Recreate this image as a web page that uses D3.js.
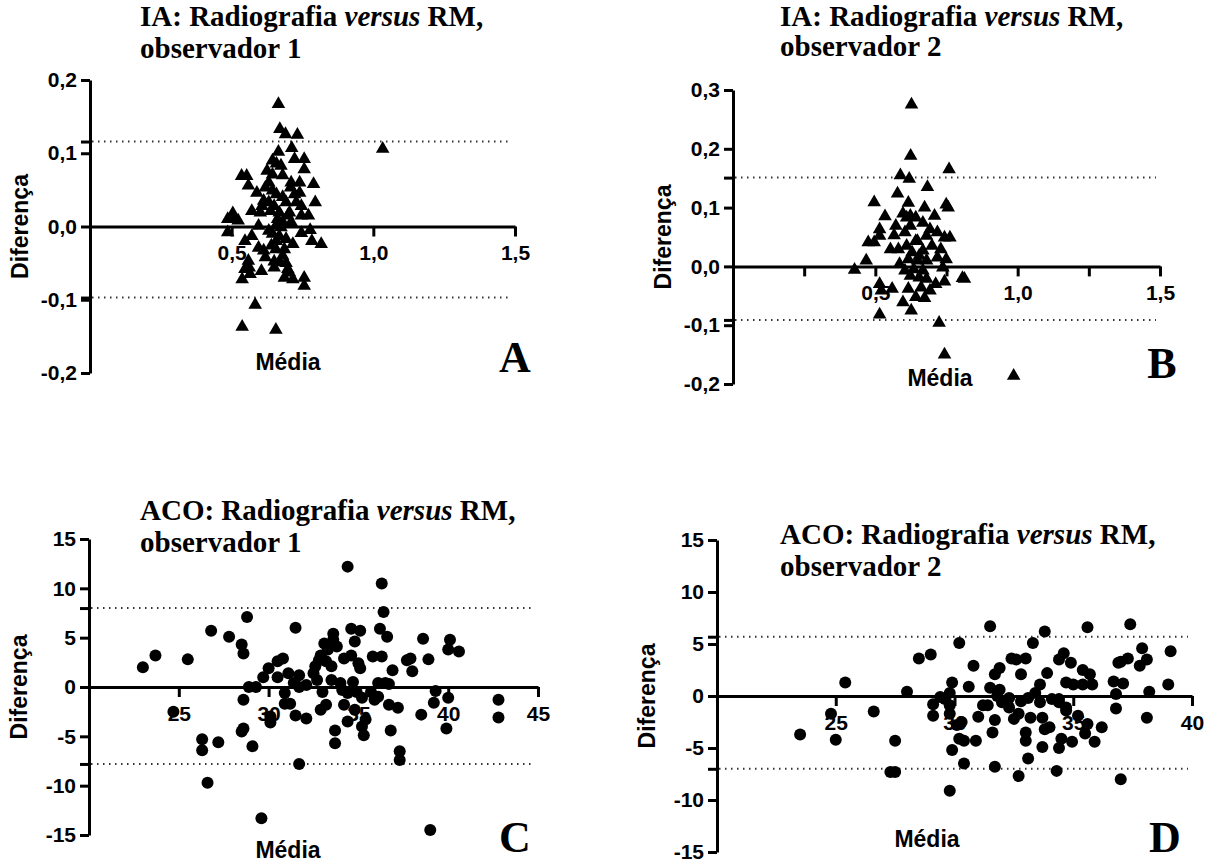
<!DOCTYPE html>
<html>
<head>
<meta charset="utf-8">
<script src="https://cdnjs.cloudflare.com/ajax/libs/d3/7.8.5/d3.min.js"></script>
<style>
  body { margin: 0; background: #fff; }
  svg { display: block; }
  .axis .tick text { font: bold 21px "Liberation Sans", Arial, sans-serif; fill: #000; }
  .axis path, .axis line { stroke: #000; stroke-width: 3; }
  .title { font: bold 29px "Liberation Serif", "Times New Roman", serif; fill: #000; }
  .lab { font: bold 23px "Liberation Sans", Arial, sans-serif; fill: #000; }
  .letter { font: bold 44px "Liberation Serif", "Times New Roman", serif; fill: #000; }
  .limit { stroke: #333; stroke-width: 2; stroke-dasharray: 1.5 4.5; fill: none; }
</style>
</head>
<body>
<svg id="chart" width="1222" height="864"></svg>
<script>
// Bland-Altman: [media, diferenca]
var iaObs1 = [[0.665,0.167],[0.670,0.133],[0.690,0.126],[0.732,0.125],[1.033,0.106],[0.712,0.107],[0.535,0.069],[0.553,0.069],[0.559,0.056],[0.665,0.102],[0.644,0.090],[0.658,0.086],[0.674,0.083],[0.722,0.092],[0.756,0.092],[0.756,0.078],[0.625,0.076],[0.644,0.071],[0.680,0.070],[0.710,0.060],[0.740,0.060],[0.789,0.058],[0.708,0.053],[0.619,0.053],[0.589,0.046],[0.644,0.049],[0.658,0.044],[0.722,0.044],[0.740,0.046],[0.795,0.033],[0.613,0.035],[0.631,0.033],[0.607,0.028],[0.650,0.028],[0.692,0.033],[0.728,0.033],[0.746,0.028],[0.571,0.021],[0.601,0.019],[0.637,0.021],[0.668,0.019],[0.704,0.019],[0.746,0.015],[0.771,0.015],[0.504,0.018],[0.510,0.011],[0.523,0.008],[0.486,0.010],[0.662,0.010],[0.680,0.006],[0.710,0.006],[0.656,0.001],[0.674,-0.001],[0.486,-0.008],[0.631,-0.006],[0.644,-0.010],[0.746,-0.009],[0.777,-0.005],[0.571,-0.013],[0.668,-0.013],[0.692,-0.017],[0.547,-0.020],[0.783,-0.020],[0.816,-0.024],[0.716,-0.024],[0.595,-0.029],[0.613,-0.033],[0.656,-0.031],[0.686,-0.031],[0.619,-0.042],[0.680,-0.040],[0.559,-0.047],[0.650,-0.048],[0.692,-0.050],[0.562,-0.056],[0.547,-0.058],[0.650,-0.056],[0.698,-0.058],[0.565,-0.065],[0.605,-0.061],[0.704,-0.063],[0.686,-0.070],[0.537,-0.072],[0.716,-0.072],[0.756,-0.070],[0.756,-0.081],[0.583,-0.107],[0.537,-0.137],[0.656,-0.141],[0.658,-0.020],[0.640,-0.026],[0.670,-0.049],[0.595,0.001],[0.698,0.015],[0.680,0.040],[0.631,0.060]];

var iaObs2 = [[0.627,0.275],[0.624,0.188],[0.759,0.165],[0.588,0.155],[0.619,0.149],[0.683,0.135],[0.578,0.124],[0.496,0.109],[0.616,0.108],[0.749,0.105],[0.756,0.100],[0.534,0.085],[0.597,0.090],[0.610,0.083],[0.673,0.100],[0.708,0.086],[0.642,0.083],[0.667,0.074],[0.515,0.063],[0.572,0.069],[0.623,0.069],[0.604,0.058],[0.566,0.053],[0.515,0.052],[0.475,0.041],[0.496,0.041],[0.553,0.029],[0.581,0.029],[0.642,0.043],[0.680,0.052],[0.743,0.049],[0.762,0.049],[0.730,0.029],[0.629,0.024],[0.667,0.027],[0.699,0.035],[0.616,0.012],[0.648,0.010],[0.680,0.010],[0.718,0.015],[0.749,0.012],[0.468,0.010],[0.427,-0.006],[0.604,-0.007],[0.635,-0.005],[0.667,-0.007],[0.623,-0.016],[0.654,-0.019],[0.680,-0.021],[0.743,-0.026],[0.712,-0.030],[0.806,-0.020],[0.813,-0.021],[0.515,-0.030],[0.559,-0.038],[0.521,-0.041],[0.616,-0.038],[0.642,-0.052],[0.673,-0.054],[0.597,-0.061],[0.626,-0.075],[0.515,-0.082],[0.724,-0.096],[0.743,-0.150],[0.986,-0.186],[0.654,0.018],[0.610,0.035],[0.692,0.063],[0.718,0.058],[0.585,0.004],[0.661,-0.036],[0.692,-0.041],[0.648,0.043],[0.623,0.086],[0.737,-0.002]];

var acoObs1 = [[23.0,2.0],[23.7,3.2],[25.5,2.8],[26.8,5.7],[27.8,5.1],[28.5,4.3],[28.6,3.4],[28.8,7.1],[28.6,-1.3],[28.9,0.0],[29.3,0.0],[28.5,-4.5],[28.6,-4.2],[26.3,-5.3],[26.3,-6.4],[27.2,-5.6],[29.1,-6.0],[26.6,-9.7],[29.6,-13.3],[24.7,-2.5],[29.7,1.0],[30.0,1.9],[30.5,1.0],[30.5,2.6],[30.8,2.9],[31.1,1.4],[31.5,6.0],[30.9,-0.6],[30.9,-1.7],[31.2,-1.7],[30.1,-3.0],[30.1,-3.6],[31.5,-2.9],[32.1,-3.2],[31.4,0.4],[31.7,1.2],[31.7,0.0],[32.1,0.2],[32.5,1.4],[32.6,2.1],[32.8,2.7],[32.9,3.2],[33.2,2.6],[33.3,3.8],[33.1,4.4],[33.6,4.8],[33.6,5.4],[33.8,4.1],[32.7,0.7],[33.0,-0.5],[32.9,-2.3],[33.2,-1.8],[33.5,0.7],[33.7,-4.4],[33.7,-5.7],[33.5,2.1],[34.0,0.4],[34.1,-0.3],[34.2,2.9],[34.2,-1.8],[34.4,12.2],[34.4,-3.5],[34.4,-0.6],[34.6,5.9],[34.6,3.2],[34.7,0.5],[34.8,4.6],[34.8,-2.3],[34.9,-0.5],[35.0,2.4],[35.1,5.7],[35.1,1.9],[35.2,-1.1],[35.2,-4.0],[35.3,-4.9],[35.4,-3.3],[35.7,-0.5],[35.8,3.1],[35.9,-1.3],[36.1,0.4],[36.2,5.9],[36.3,3.1],[36.3,10.5],[36.4,7.6],[36.6,5.1],[36.5,0.4],[36.7,-1.8],[36.9,1.7],[36.7,0.3],[36.8,-4.4],[37.2,-2.1],[37.3,-6.5],[37.3,-7.4],[37.7,2.7],[37.9,2.9],[38.0,1.6],[38.5,-2.8],[38.6,4.9],[38.9,2.8],[39.0,-14.5],[39.3,-0.4],[39.2,-1.6],[40.0,-1.1],[39.9,-4.2],[40.1,4.8],[40.0,3.8],[40.6,3.6],[42.8,-1.3],[42.8,-3.1],[31.7,-7.8],[36.1,-1.0]];

var acoObs2 = [[23.5,-3.7],[24.8,-1.7],[25.0,-4.2],[25.4,1.3],[26.6,-1.5],[27.3,-7.3],[27.5,-7.3],[27.5,-4.3],[28.0,0.4],[28.5,3.6],[29.0,4.0],[29.1,-0.8],[29.1,-1.9],[29.4,-0.1],[29.6,-0.3],[29.8,-0.9],[29.8,0.3],[29.9,1.3],[29.8,-1.7],[29.8,-9.1],[29.9,-5.2],[30.1,-2.8],[30.3,-2.5],[30.2,-4.1],[30.4,-4.3],[30.2,5.1],[30.4,-6.5],[30.6,0.9],[30.8,2.9],[30.9,-4.3],[31.0,-2.0],[31.2,-0.9],[31.5,6.7],[31.5,0.8],[31.6,-3.5],[31.7,2.1],[31.8,0.0],[31.7,-2.3],[31.7,-6.8],[31.9,2.7],[31.9,0.6],[32.0,-0.6],[32.3,-1.1],[32.4,3.6],[32.5,-2.2],[32.6,3.5],[32.7,-7.7],[32.7,-1.7],[32.8,-0.5],[32.8,2.1],[33.0,3.6],[33.0,-3.5],[33.0,-4.3],[33.1,-0.2],[33.1,-6.0],[33.2,-2.1],[33.3,5.1],[33.4,0.3],[33.6,1.1],[33.6,-0.6],[33.7,-2.1],[33.7,-4.9],[33.8,-3.2],[33.8,6.2],[33.9,2.2],[34.0,-3.0],[34.1,-0.3],[34.3,-7.2],[34.4,-0.3],[34.4,3.5],[34.4,-5.0],[34.5,-4.1],[34.6,4.1],[34.7,1.3],[34.7,-1.1],[34.9,3.2],[34.95,-4.4],[35.0,1.1],[35.2,-1.9],[35.4,2.5],[35.4,1.1],[35.5,-3.6],[35.6,6.6],[35.6,-2.7],[35.7,2.1],[35.8,1.1],[35.9,-4.4],[36.2,-3.0],[36.7,1.4],[36.8,0.2],[36.8,-1.2],[36.9,3.2],[37.0,-8.0],[37.0,3.3],[37.1,1.2],[37.3,3.6],[37.4,6.9],[37.8,2.9],[37.9,4.6],[38.1,3.5],[38.1,-2.1],[38.2,0.4],[39.0,1.1],[39.1,4.3],[32.3,-0.2],[34.4,-0.6],[34.7,-1.4],[31.4,-0.9]];

// limites de concordancia (superior, inferior)
var iaObs1Limits = [0.116, -0.097];
var iaObs2Limits = [0.151, -0.091];
var acoObs1Limits = [8.0, -7.8];
var acoObs2Limits = [5.7, -7.0];

// ticks
var iaObs1XTicks = [0.5, 1.0, 1.5];
var iaObs1YTicks = [-0.2, -0.1, 0, 0.1, 0.2];
var iaObs2XTicks = [0.25, 0.5, 0.75, 1.0, 1.25, 1.5];
var iaObs2YTicks = [-0.2, -0.1, 0, 0.1, 0.2, 0.3];
var acoObs1XTicks = [25, 30, 35, 40, 45];
var acoObs2XTicks = [25, 30, 35, 40];
var acoYTicks = [-15, -10, -5, 0, 5, 10, 15];

var titles = [
  ["IA: Radiografia ", "versus", " RM,", "observador 1"],
  ["IA: Radiografia ", "versus", " RM,", "observador 2"],
  ["ACO: Radiografia ", "versus", " RM,", "observador 1"],
  ["ACO: Radiografia ", "versus", " RM,", "observador 2"]
];
var letters = ["A", "B", "C", "D"];

window.onload = function () {
  var svg = d3.select("#chart");
  var comma1 = function (d) { return d3.format(".1f")(d).replace(".", ",").replace("−", "-"); };
  var plain = function (d) { return d3.format("d")(d).replace("−", "-"); };

  var panels = [
    {data: iaObs1, lim: iaObs1Limits, xt: iaObs1XTicks, yt: iaObs1YTicks, xd: [0, 1.5], yd: [-0.2, 0.2],
     left: 90, right: 515, top: 80, bottom: 373, fmtY: comma1, sym: "tri",
     xlab: function (d) { return comma1(d); },
     title: [140, 26, 58], media: [288, 370], letter: [515, 372]},
    {data: iaObs2, lim: iaObs2Limits, xt: iaObs2XTicks, yt: iaObs2YTicks, xd: [0, 1.5], yd: [-0.2, 0.3],
     left: 733, right: 1160, top: 90, bottom: 384, fmtY: comma1, sym: "tri",
     xlab: function (d) { return (d * 2) % 1 === 0 ? comma1(d) : ""; },
     title: [780, 26, 56], media: [940, 386], letter: [1162, 378]},
    {data: acoObs1, lim: acoObs1Limits, xt: acoObs1XTicks, yt: acoYTicks, xd: [20, 45], yd: [-15, 15],
     left: 89, right: 538, top: 539, bottom: 835, fmtY: plain, sym: "dot",
     xlab: plain,
     title: [140, 520, 552], media: [288, 858], letter: [515, 852]},
    {data: acoObs2, lim: acoObs2Limits, xt: acoObs2XTicks, yt: acoYTicks, xd: [20, 40], yd: [-15, 15],
     left: 717, right: 1192, top: 540, bottom: 852, fmtY: plain, sym: "dot",
     xlab: plain,
     title: [780, 544, 576], media: [927, 847], letter: [1165, 852]}
  ];

  var tri = d3.symbol().type(d3.symbolTriangle).size(80);

  panels.forEach(function (p, i) {
    var x = d3.scaleLinear().domain(p.xd).range([p.left, p.right]);
    var y = d3.scaleLinear().domain(p.yd).range([p.bottom, p.top]);
    var g = svg.append("g");

    // titulo
    var t = g.append("text").attr("class", "title").attr("x", p.title[0]).attr("y", p.title[1]);
    t.append("tspan").text(titles[i][0]);
    t.append("tspan").attr("font-style", "italic").text(titles[i][1]);
    t.append("tspan").text(titles[i][2]);
    g.append("text").attr("class", "title").attr("x", p.title[0]).attr("y", p.title[2]).text(titles[i][3]);

    // limites
    g.selectAll(".limit")
      .data(p.lim)
      .enter().append("line")
        .attr("class", "limit")
        .attr("x1", p.left + 2)
        .attr("x2", p.right - 4)
        .attr("y1", function (d) { return y(d); })
        .attr("y2", function (d) { return y(d); });

    // eixos (os limites tambem ganham um tick sem rotulo)
    g.append("g")
      .attr("class", "axis")
      .attr("transform", "translate(" + p.left + ",0)")
      .call(d3.axisLeft(y).tickValues(p.yt.concat(p.lim)).tickSize(9).tickSizeOuter(0).tickPadding(4)
        .tickFormat(function (d) { return p.lim.indexOf(d) >= 0 ? "" : p.fmtY(d); }));

    g.append("g")
      .attr("class", "axis")
      .attr("transform", "translate(0," + y(0) + ")")
      .call(d3.axisBottom(x).tickValues(p.xt).tickSize(10).tickSizeOuter(0).tickPadding(9).tickFormat(p.xlab));

    // pontos
    if (p.sym === "tri") {
      g.selectAll(".pt")
        .data(p.data)
        .enter().append("path")
          .attr("class", "pt")
          .attr("d", tri)
          .attr("transform", function (d) { return "translate(" + x(d[0]) + "," + y(d[1]) + ")"; })
          .attr("fill", "#000");
    } else {
      g.selectAll(".pt")
        .data(p.data)
        .enter().append("circle")
          .attr("class", "pt")
          .attr("cx", function (d) { return x(d[0]); })
          .attr("cy", function (d) { return y(d[1]); })
          .attr("r", 6)
          .attr("fill", "#000");
    }

    // rotulos
    g.append("text")
      .attr("class", "lab")
      .attr("transform", "translate(" + (p.left - 62) + "," + ((p.top + p.bottom) / 2) + ") rotate(-90)")
      .attr("text-anchor", "middle")
      .text("Diferença");
    g.append("text")
      .attr("class", "lab")
      .attr("x", p.media[0]).attr("y", p.media[1])
      .attr("text-anchor", "middle")
      .text("Média");
    g.append("text")
      .attr("class", "letter")
      .attr("x", p.letter[0]).attr("y", p.letter[1])
      .attr("text-anchor", "middle")
      .text(letters[i]);
  });
};
</script>
</body>
</html>
